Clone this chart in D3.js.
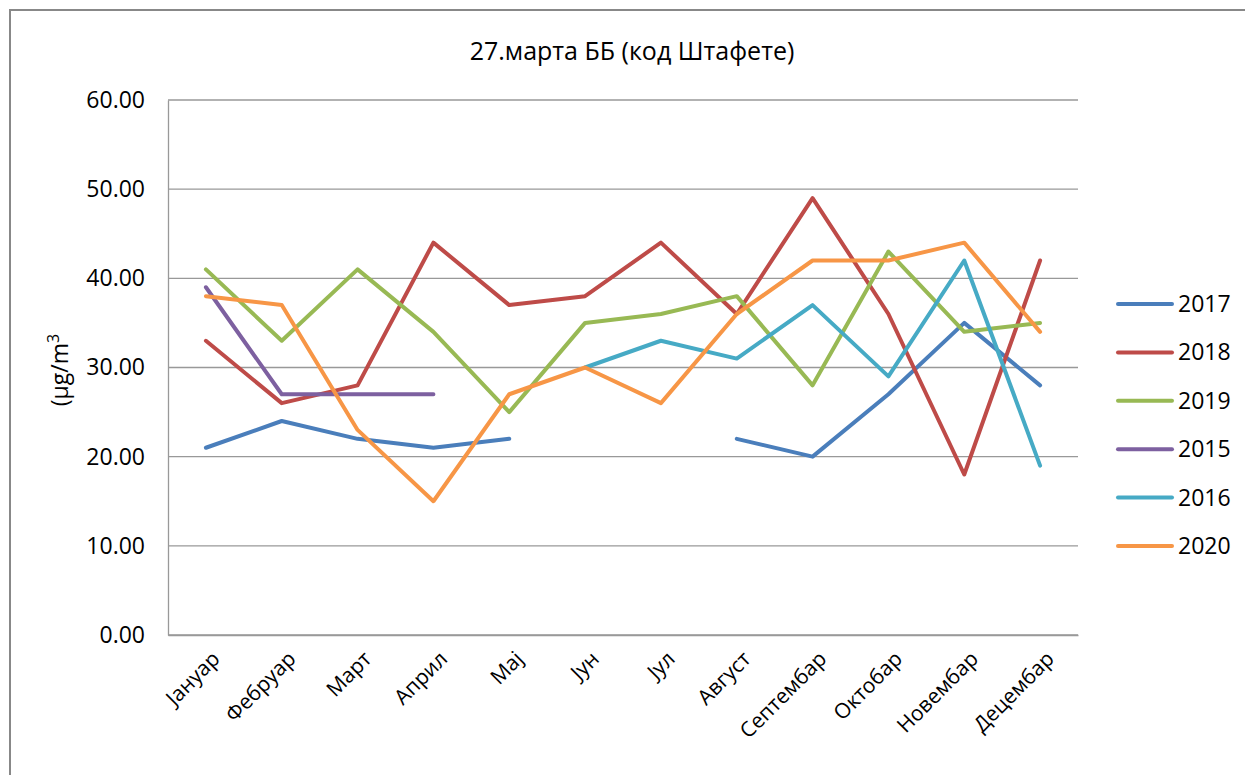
<!DOCTYPE html>
<html>
<head>
<meta charset="utf-8">
<script src="https://cdn.jsdelivr.net/npm/d3@7"></script>
<style>
  body { margin: 0; background: #fff; }
  svg text { font-family: "Open Sans", "Noto Sans", sans-serif; fill: #000; }
</style>
</head>
<body>
<div class="chart"></div>
<script>
// data
const months = ["Јануар", "Фебруар", "Март", "Април", "Мај", "Јун", "Јул", "Август", "Септембар", "Октобар", "Новембар", "Децембар"];
const seriesNames = ["2017", "2018", "2019", "2015", "2016", "2020"];
const v2017 = [21, 24, 22, 21, 22, null, null, 22, 20, 27, 35, 28];
const v2018 = [33, 26, 28, 44, 37, 38, 44, 36, 49, 36, 18, 42];
const v2019 = [41, 33, 41, 34, 25, 35, 36, 38, 28, 43, 34, 35];
const v2015 = [39, 27, 27, 27, null, null, null, null, null, null, null, null];
const v2016 = [null, null, null, null, null, 30, 33, 31, 37, 29, 42, 19];
const v2020 = [38, 37, 23, 15, 27, 30, 26, 36, 42, 42, 44, 34];
const yTicks = [0, 10, 20, 30, 40, 50, 60];

const seriesValues = [v2017, v2018, v2019, v2015, v2016, v2020];
const colors = ["#4a7ebb", "#be4b48", "#98b954", "#7d60a0", "#46aac5", "#f79646"];

const W = 1245, H = 775;
const margin = {top: 100, right: 167, bottom: 140, left: 168};
const w = W - margin.left - margin.right,
      h = H - margin.top - margin.bottom;

const svg = d3.select(".chart").append("svg")
    .attr("width", W)
    .attr("height", H);

// outer frame (only left & top visible in the crop)
svg.append("rect")
    .attr("x", 10).attr("y", 10)
    .attr("width", W + 20).attr("height", H + 20)
    .attr("fill", "none")
    .attr("stroke", "#888")
    .attr("stroke-width", 2);

const g = svg.append("g")
    .attr("transform", `translate(${margin.left},${margin.top})`);

const xScale = d3.scaleBand().domain(months).range([0, w]);
const yScale = d3.scaleLinear().domain([0, 60]).range([h, 0]);

// gridlines
g.selectAll("line.grid")
    .data(yTicks)
    .enter().append("line")
    .attr("class", "grid")
    .attr("x1", 0).attr("x2", w)
    .attr("y1", d => yScale(d)).attr("y2", d => yScale(d))
    .attr("stroke", "#999")
    .attr("stroke-width", 1.3);

// y axis
const yAxis = d3.axisLeft(yScale).tickValues(yTicks).tickFormat(d3.format(".2f")).tickSize(0).tickPadding(23);
g.append("g").attr("class", "axis y-axis").call(yAxis)
    .call(s => s.select(".domain").attr("stroke", "#999").attr("stroke-width", 1.3))
    .selectAll("text").style("font-size", "23px").attr("fill", "#222");

// x axis
const xAxis = d3.axisBottom(xScale).tickSize(0).tickPadding(10);
g.append("g").attr("class", "axis x-axis")
    .attr("transform", `translate(0,${h})`)
    .call(xAxis)
    .call(s => s.select(".domain").attr("stroke", "#999").attr("stroke-width", 1.3))
    .selectAll("text")
    .style("font-size", "21px")
    .attr("text-anchor", "end")
    .attr("dy", "0.35em")
    .attr("transform", "translate(3,13) rotate(-45)");

// lines
const line = d3.line()
    .defined(d => d.v !== null)
    .x(d => xScale(d.m) + xScale.bandwidth() / 2)
    .y(d => yScale(d.v));

seriesNames.forEach((name, i) => {
    const pts = months.map((m, j) => ({m: m, v: seriesValues[i][j]}));
    g.append("path")
        .datum(pts)
        .attr("fill", "none")
        .attr("stroke", colors[i])
        .attr("stroke-width", 4)
        .attr("stroke-linejoin", "round")
        .attr("stroke-linecap", "round")
        .attr("d", line);
});

// title
svg.append("text")
    .attr("x", 632).attr("y", 60)
    .attr("text-anchor", "middle")
    .style("font-size", "25px")
    .text("27.марта ББ (код Штафете)");

// y label
svg.append("text")
    .attr("transform", "translate(68,370) rotate(-90)")
    .attr("text-anchor", "middle")
    .style("font-size", "23px")
    .html("(µg/m<tspan dy='-9' font-size='16px'>3</tspan>");

// legend
const legend = svg.append("g").attr("transform", "translate(1118,304)");
seriesNames.forEach((name, i) => {
    const row = legend.append("g").attr("transform", `translate(0,${i * 48.4})`);
    row.append("line")
        .attr("x1", 0).attr("x2", 54)
        .attr("stroke", colors[i])
        .attr("stroke-width", 4)
        .attr("stroke-linecap", "round");
    row.append("text")
        .attr("x", 60).attr("y", 0)
        .attr("dy", "0.35em")
        .style("font-size", "23px")
        .text(name);
});
</script>
</body>
</html>
